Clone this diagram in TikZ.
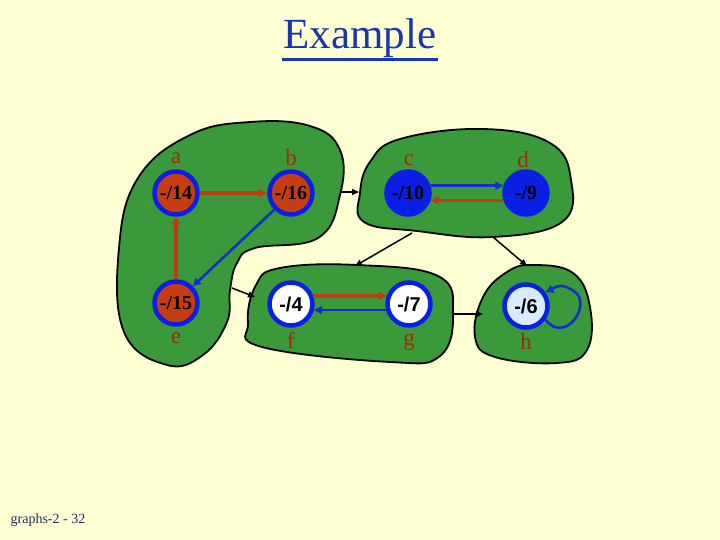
\documentclass[tikz,border=0pt]{standalone}
\usepackage{fontspec}
\setmainfont{Liberation Serif}
\newfontfamily\arialf{Liberation Sans}
\usetikzlibrary{arrows.meta}
\definecolor{bg}{HTML}{FFFFD4}
\definecolor{blobg}{HTML}{3A993A}
\definecolor{nred}{HTML}{C53D10}
\definecolor{nblue}{HTML}{0A1EE6}
\definecolor{ered}{HTML}{C03A10}
\definecolor{eblue}{HTML}{1430C8}
\definecolor{lbl}{HTML}{A02C00}
\definecolor{titleblue}{HTML}{1C34B0}
\definecolor{hfill}{HTML}{D8ECFF}
\definecolor{foot}{HTML}{1E2E5A}
\tikzset{
  blob/.style={draw=black, line width=1.8pt, fill=blobg},
  vtx/.style={circle, draw=nblue, line width=4.5pt, minimum size=43pt, inner sep=0pt, font=\bfseries\fontsize{20}{20}\selectfont},
  redv/.style={vtx, fill=nred},
  bluev/.style={vtx, fill=nblue},
  whitev/.style={vtx, fill=white, font=\arialf\bfseries\fontsize{20}{20}\selectfont},
  lab/.style={text=lbl, font=\fontsize{23}{23}\selectfont},
  redge/.style={draw=ered, line width=3.5pt, -{Triangle[length=8pt,width=8pt]}},
  bedge/.style={draw=eblue, line width=2.6pt, -{Triangle[length=8pt,width=8pt]}},
  carrow/.style={draw=black, line width=1.5pt, -{Triangle[length=7pt,width=6pt]}}
}
\begin{document}
\begin{tikzpicture}[x=1pt,y=-1pt]
\fill[bg] (0,0) rectangle (720,540);
\useasboundingbox (0,0) rectangle (720,540);
% title
\node (title) at (360,38) {\color{titleblue}\fontsize{43}{43}\selectfont Example};
\draw[titleblue, line width=3pt] (282,60) -- (438,60);
\node (foot) at (48,520) {\color{foot}\fontsize{14}{14}\selectfont graphs-2 - 32};
% blobs
\path[blob] plot[smooth cycle, tension=0.7] coordinates {(119,248) (138,178) (190,135) (250,122) (310,126) (340,150) (340,195) (318,238) (255,248) (237,263) (230,290) (227,322) (203,355) (167,365) (124,332)};
\path[blob] plot[smooth cycle, tension=0.7] coordinates {(360,193) (364,222) (417,231) (493,237) (562,222) (571,180) (550,143) (483,129) (400,139) (370,162)};
\path[blob] plot[smooth cycle, tension=0.7] coordinates {(280,268) (357,265) (438,276) (453,313) (440,356) (390,362) (262,347) (248,323) (256,285)};
\path[blob] plot[smooth cycle, tension=0.7] coordinates {(483,297) (507,272) (533,265) (573,273) (590,307) (587,350) (557,363) (495,357) (475,337)};
% component arrows
\coordinate (k1s) at (340,192); \coordinate (k1e) at (359,192);
\coordinate (k2s) at (232,288); \coordinate (k2e) at (255,297);
\coordinate (k3s) at (412,233); \coordinate (k3e) at (355,266);
\coordinate (k4s) at (493,237); \coordinate (k4e) at (527,266);
\coordinate (k5s) at (453,314); \coordinate (k5e) at (483,314);
\draw[carrow] (k1s) -- (k1e);
\draw[carrow] (k2s) -- (k2e);
\draw[carrow] (k3s) -- (k3e);
\draw[carrow] (k4s) -- (k4e);
\draw[carrow] (k5s) -- (k5e);
% vertices
\node[redv] (a) at (176,193) {-/14};
\node[redv] (b) at (291,193) {-/16};
\node[redv] (e) at (176,303) {-/15};
\node[bluev] (c) at (408,193) {-/10};
\node[bluev] (d) at (526,193) {-/9};
\node[whitev] (f) at (291,304) {-/4};
\node[whitev] (g) at (409,304) {-/7};
\node[whitev, fill=hfill] (h) at (526,306) {-/6};
% labels
\node[lab] (la) at (176,158) {a};
\node[lab] (lb) at (291,158) {b};
\node[lab] (lc) at (409,160) {c};
\node[lab] (ld) at (523,160) {d};
\node[lab] (le) at (176,338) {e};
\node[lab] (lf) at (291,340) {f};
\node[lab] (lg) at (409,342) {g};
\node[lab] (lh) at (526,342) {h};
% edges
\draw[redge] (a.east) -- (b.west);
\draw[redge] (e.north) -- (a.south);
\draw[bedge] (b.225) -- (e.45);
\draw[bedge] (c.18) -- (d.162);
\draw[redge] (d.-162) -- (c.-18);
\draw[redge] (f.20) -- (g.160);
\draw[bedge] (g.-165) -- (f.-15);
\draw[bedge] (h.-35) .. controls (565,345) and (592,305) .. (575,292) .. controls (562,282) and (556,287) .. (h.35);
\end{tikzpicture}
\end{document}
